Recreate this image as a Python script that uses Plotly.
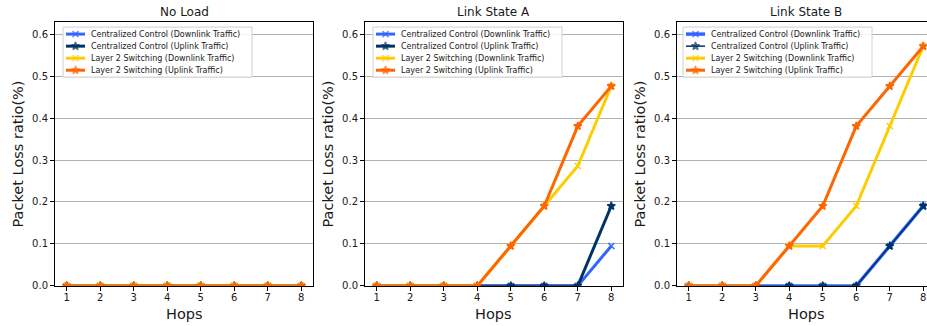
import plotly.graph_objects as go

hops = [1, 2, 3, 4, 5, 6, 7, 8]
panel_titles = ["No Load", "Link State A", "Link State B"]
series_names = [
    "Centralized Control (Downlink Traffic)",
    "Centralized Control (Uplink Traffic)",
    "Layer 2 Switching (Downlink Traffic)",
    "Layer 2 Switching (Uplink Traffic)",
]

# No Load
noload_cc_down = [0, 0, 0, 0, 0, 0, 0, 0]
noload_cc_up = [0, 0, 0, 0, 0, 0, 0, 0]
noload_l2_down = [0, 0, 0, 0, 0, 0, 0, 0]
noload_l2_up = [0, 0, 0, 0, 0, 0, 0, 0]

# Link State A
a_cc_down = [0, 0, 0, 0, 0, 0, 0, 0.0952]
a_cc_up = [0, 0, 0, 0, 0, 0, 0, 0.1905]
a_l2_down = [0, 0, 0, 0, 0.0952, 0.1905, 0.2857, 0.4762]
a_l2_up = [0, 0, 0, 0, 0.0952, 0.1905, 0.3810, 0.4762]

# Link State B
b_cc_down = [0, 0, 0, 0, 0, 0, 0.0952, 0.1905]
b_cc_up = [0, 0, 0, 0, 0, 0, 0.0952, 0.1905]
b_l2_down = [0, 0, 0, 0.0952, 0.0952, 0.1905, 0.3810, 0.5714]
b_l2_up = [0, 0, 0, 0.0952, 0.1905, 0.3810, 0.4762, 0.5714]

y_ticks = [0.0, 0.1, 0.2, 0.3, 0.4, 0.5, 0.6]

panels = [
    [noload_cc_down, noload_cc_up, noload_l2_down, noload_l2_up],
    [a_cc_down, a_cc_up, a_l2_down, a_l2_up],
    [b_cc_down, b_cc_up, b_l2_down, b_l2_up],
]

colors = ["#3366ff", "#003366", "#ffcc00", "#ff6600"]
symbols = ["x-thin", "star", "x-thin", "star"]
msizes = [6, 6, 6, 6]
widths = [[3, 3, 3, 3], [3, 3, 3, 3], [3.5, 1.5, 3, 3]]

W, H = 927, 326      # reference pixel grid
FIG_H = 333          # rendered height (the capture is squeezed to 326)


def px(X):
    return X / W


def py(Y):
    return (H - Y) / H


plot_left = [55, 365, 677]
plot_w = 258
top_px, bot_px = 22, 285
FONT = "DejaVu Sans"
TXT = "#1a1a1a"

fig = go.Figure()

for p, data in enumerate(panels):
    ax = "" if p == 0 else str(p + 1)
    for s in range(4):
        fig.add_trace(go.Scatter(
            x=hops, y=data[s], name=series_names[s],
            mode="lines+markers",
            line=dict(color=colors[s], width=widths[p][s]),
            marker=dict(symbol=symbols[s], size=msizes[s],
                        color=colors[s], line=dict(color=colors[s], width=1.5)),
            xaxis="x" + ax, yaxis="y" + ax, showlegend=False,
        ))

layout = dict(
    width=W, height=FIG_H, margin=dict(l=0, r=0, t=0, b=0),
    paper_bgcolor="white", plot_bgcolor="rgba(0,0,0,0)",
    font=dict(family=FONT, color=TXT),
    showlegend=False,
)

ydom = [py(bot_px), py(top_px)]
annotations = []
pxu = plot_w / 7.7
for p in range(3):
    ax = "" if p == 0 else str(p + 1)
    left = plot_left[p]
    if p < 2:
        xdom = [px(left), px(left + plot_w)]
        xr = [0.65, 8.35]
    else:
        xdom = [px(left), 1.0]
        xr = [0.65, 0.65 + (W - left) / pxu]
    layout["xaxis" + ax] = dict(
        domain=xdom, range=xr, anchor="y" + ax,
        tickmode="array", tickvals=hops, ticktext=[str(h) for h in hops],
        showgrid=False, zeroline=False,
        showline=True, linecolor="black", linewidth=1, mirror=True,
        ticks="outside", ticklen=4, tickcolor="black", ticklabelstandoff=-2,
        tickfont=dict(size=10, family=FONT, color=TXT),
    )
    layout["yaxis" + ax] = dict(
        domain=ydom, range=[0, 0.629], anchor="x" + ax,
        tickmode="array", tickvals=y_ticks, ticktext=["%.1f" % v for v in y_ticks],
        showgrid=True, gridcolor="#b0b0b0", gridwidth=1, zeroline=False,
        showline=True, linecolor="black", linewidth=1,
        mirror=(p < 2),
        ticks="outside", ticklen=4, tickcolor="black",
        tickfont=dict(size=10, family=FONT, color=TXT),
    )
    cx = px(left + plot_w / 2)
    annotations.append(dict(text=panel_titles[p], x=cx, y=py(12), xref="paper", yref="paper",
                            showarrow=False, font=dict(size=12, family=FONT, color=TXT),
                            xanchor="center", yanchor="middle"))
    annotations.append(dict(text="Hops", x=cx, y=py(313), xref="paper", yref="paper",
                            showarrow=False, font=dict(size=14.5, family=FONT, color=TXT),
                            xanchor="center", yanchor="middle"))
    annotations.append(dict(text="Packet Loss ratio(%)", x=px(left - 37), y=py(154),
                            xref="paper", yref="paper", textangle=-90,
                            showarrow=False, font=dict(size=14.5, family=FONT, color=TXT),
                            xanchor="center", yanchor="middle"))

# Overlay axes in reference pixels for the hand-built legends
layout["xaxis4"] = dict(domain=[0, 1], range=[0, W], visible=False, fixedrange=True, anchor="y4")
layout["yaxis4"] = dict(domain=[0, 1], range=[H, 0], visible=False, fixedrange=True, anchor="x4")

leg_off = [8, 8, 6]
leg_w = 189
leg_top, leg_bot = 27, 77
row_y = [34, 46, 58, 70]
for p in range(3):
    lx = plot_left[p] + leg_off[p]
    fig.add_trace(go.Scatter(
        x=[lx, lx + leg_w, lx + leg_w, lx, lx], y=[leg_top, leg_top, leg_bot, leg_bot, leg_top],
        mode="lines", fill="toself", fillcolor="rgba(255,255,255,0.85)",
        line=dict(color="#d0d0d0", width=1), xaxis="x4", yaxis="y4",
        hoverinfo="skip", showlegend=False,
    ))
    for s in range(4):
        fig.add_trace(go.Scatter(
            x=[lx + 3, lx + 12.5, lx + 22], y=[row_y[s]] * 3,
            mode="lines+markers",
            line=dict(color=colors[s], width=widths[p][s]),
            marker=dict(symbol=symbols[s], size=[0, msizes[s], 0], color=colors[s],
                        line=dict(color=colors[s], width=1.5)),
            xaxis="x4", yaxis="y4", hoverinfo="skip", showlegend=False,
        ))
        annotations.append(dict(text=series_names[s], x=px(lx + 26), y=py(row_y[s]),
                                xref="paper", yref="paper", showarrow=False,
                                font=dict(size=8, family=FONT, color=TXT),
                                xanchor="left", yanchor="middle"))

layout["annotations"] = annotations
fig.update_layout(**layout)

PAGE_FIX = (
    "var de=document.documentElement, b=document.body;"
    "de.style.margin='0'; de.style.padding='0'; de.style.overflow='hidden';"
    "b.style.margin='0'; b.style.padding='0'; b.style.overflow='hidden';"
    "b.style.lineHeight='0';"
    "var g=document.querySelector('.plotly-graph-div');"
    "if(g){g.style.position='fixed'; g.style.left='0px'; g.style.top='0px';}"
    "window.scrollTo(0,0);"
)
fig.write_html(
    "out.html",
    config={"displayModeBar": False, "staticPlot": True},
    post_script=PAGE_FIX,
)
